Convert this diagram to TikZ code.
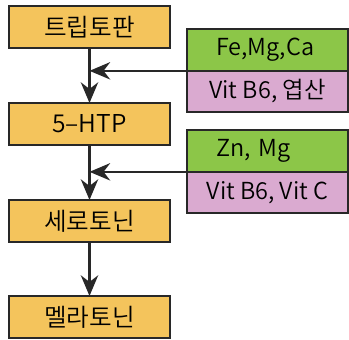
\documentclass[tikz,border=0pt]{standalone}
\usepackage{fontspec}
\setmainfont{Noto Sans CJK KR DemiLight}
\usepackage{tikz}
\usetikzlibrary{positioning,arrows.meta}

\definecolor{boxorange}{RGB}{244,196,92}
\definecolor{boxgreen}{RGB}{140,198,72}
\definecolor{boxpink}{RGB}{218,170,208}
\definecolor{linegray}{RGB}{40,40,40}

\begin{document}
\begin{tikzpicture}[
    stepbox/.style={rectangle, draw=linegray, line width=1.6pt, fill=boxorange, minimum width=4.83cm, minimum height=1.26cm, outer sep=0pt, font=\fontsize{21}{24}\selectfont},
    mineral/.style={rectangle, draw=linegray, line width=1.6pt, fill=boxgreen, text width=3.07cm, inner xsep=0.88cm, align=left, minimum height=1.25cm, outer sep=0pt, font=\fontsize{20}{24}\selectfont},
    vitamin/.style={rectangle, draw=linegray, line width=1.6pt, fill=boxpink, minimum width=4.83cm, minimum height=1.24cm, outer sep=0pt, font=\fontsize{20}{24}\selectfont},
    flow/.style={-{Stealth[length=0.62cm, width=0.52cm, inset=0.2cm]}, line width=2.2pt, draw=linegray}
]
    \useasboundingbox (0,0) rectangle (10.47,-10.2);

    % Pathway steps - left column
    \node [stepbox] (trp) at (2.685,-0.81) {트립토판};
    \node [stepbox, below=1.65cm of trp] (htp) {5--HTP};
    \node [stepbox, below=1.65cm of htp] (sero) {세로토닌};
    \node [stepbox, below=1.62cm of sero] (mela) {멜라토닌};

    % Cofactors for the first step
    \node [mineral, right=0.51cm of trp, yshift=-0.69cm] (fe) {Fe,Mg,Ca};
    \node [vitamin, below=0cm of fe] (b6a) {Vit B6, 엽산};

    % Cofactors for the second step
    \node [mineral, below=0.54cm of b6a] (zn) {Zn, Mg};
    \node [vitamin, below=0cm of zn] (b6c) {Vit B6, Vit C};

    % Where the cofactors join the main line
    \coordinate (join1) at (trp.south |- fe.south west);
    \coordinate (join2) at (htp.south |- zn.south west);

    % Arrows
    \draw [flow] (trp) -- (htp);
    \draw [flow] (htp) -- (sero);
    \draw [flow] (sero) -- (mela);
    \draw [flow] (fe.south west) -- (join1);
    \draw [flow] (zn.south west) -- (join2);

\end{tikzpicture}
\end{document}
